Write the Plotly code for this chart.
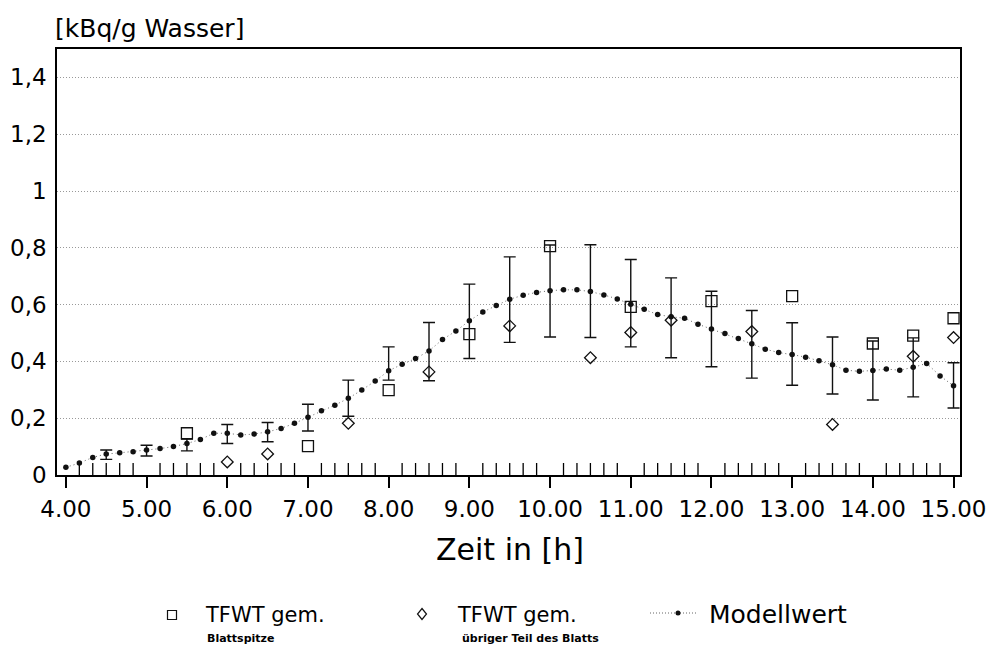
import plotly.graph_objects as go

# ---------------- data ----------------
model_t = [4.0, 4.167, 4.333, 4.5, 4.667, 4.833, 5.0, 5.167, 5.333, 5.5, 5.667, 5.833,
           6.0, 6.167, 6.333, 6.5, 6.667, 6.833, 7.0, 7.167, 7.333, 7.5, 7.667, 7.833,
           8.0, 8.167, 8.333, 8.5, 8.667, 8.833, 9.0, 9.167, 9.333, 9.5, 9.667, 9.833,
           10.0, 10.167, 10.333, 10.5, 10.667, 10.833, 11.0, 11.167, 11.333, 11.5, 11.667, 11.833,
           12.0, 12.167, 12.333, 12.5, 12.667, 12.833, 13.0, 13.167, 13.333, 13.5, 13.667, 13.833,
           14.0, 14.167, 14.333, 14.5, 14.667, 14.833, 15.0]
model_v = [0.027, 0.042, 0.062, 0.074, 0.078, 0.082, 0.088, 0.093, 0.100, 0.111, 0.125, 0.147,
           0.147, 0.141, 0.144, 0.152, 0.164, 0.182, 0.203, 0.226, 0.246, 0.270, 0.299, 0.331,
           0.367, 0.390, 0.410, 0.437, 0.477, 0.507, 0.543, 0.574, 0.597, 0.619, 0.633, 0.643,
           0.649, 0.652, 0.652, 0.646, 0.634, 0.620, 0.601, 0.584, 0.565, 0.557, 0.552, 0.531,
           0.514, 0.498, 0.481, 0.462, 0.443, 0.431, 0.424, 0.415, 0.402, 0.388, 0.369, 0.365,
           0.368, 0.373, 0.369, 0.379, 0.393, 0.349, 0.314]

err_t = [4.5, 5.0, 5.5, 6.0, 6.5, 7.0, 7.5, 8.0, 8.5, 9.0, 9.5, 10.0, 10.5, 11.0, 11.5,
         12.0, 12.5, 13.0, 13.5, 14.0, 14.5, 15.0]
err_hi = [0.088, 0.105, 0.127, 0.178, 0.185, 0.249, 0.334, 0.451, 0.537, 0.672, 0.768, 0.810,
          0.811, 0.759, 0.694, 0.647, 0.579, 0.536, 0.486, 0.472, 0.483, 0.395]
err_lo = [0.055, 0.067, 0.085, 0.111, 0.117, 0.155, 0.207, 0.334, 0.332, 0.410, 0.467, 0.486,
          0.484, 0.451, 0.413, 0.381, 0.341, 0.316, 0.285, 0.264, 0.275, 0.236]

tip_t = [5.5, 7.0, 8.0, 9.0, 10.0, 11.0, 12.0, 13.0, 14.0, 14.5, 15.0]
tip_v = [0.147, 0.102, 0.299, 0.496, 0.806, 0.592, 0.612, 0.630, 0.463, 0.491, 0.552]

rest_t = [6.0, 6.5, 7.5, 8.5, 9.5, 10.5, 11.0, 11.5, 12.5, 13.5, 14.5, 15.0]
rest_v = [0.046, 0.074, 0.182, 0.363, 0.525, 0.413, 0.502, 0.545, 0.505, 0.178, 0.418, 0.484]

x_tickvals = [4, 5, 6, 7, 8, 9, 10, 11, 12, 13, 14, 15]
x_ticktext = ["4.00", "5.00", "6.00", "7.00", "8.00", "9.00", "10.00", "11.00",
              "12.00", "13.00", "14.00", "15.00"]
y_tickvals = [0, 0.2, 0.4, 0.6, 0.8, 1.0, 1.2, 1.4]
y_ticktext = ["0", "0,2", "0,4", "0,6", "0,8", "1", "1,2", "1,4"]

# ---------------- layout geometry ----------------
W, H = 987, 649
L, R, T, B = 57, 27, 49, 174
PW, PH = W - L - R, H - T - B
FONT = "DejaVu Sans"
INK = "#000"
YR = [0, 1.5]

# 10-minute tick positions (axis decoration only)
minor_vals = [round(4 + i / 6, 4) for i in range(67)
              if all(abs(4 + i / 6 - m) > 1e-6 for m in x_tickvals)]


def px(x):
    return (x - L) / PW


def py(y):
    return (H - B - y) / PH


center = dict(zip(model_t, model_v))
err_c = [center[t] for t in err_t]
err_plus = [h - c for h, c in zip(err_hi, err_c)]
err_minus = [c - lo for c, lo in zip(err_c, err_lo)]

fig = go.Figure()

# tick marks on the time axis, drawn as vertical-line markers sitting on the axis
unit_per_px = (YR[1] - YR[0]) / PH
fig.add_trace(go.Scatter(
    x=minor_vals, y=[5 * unit_per_px] * len(minor_vals), mode="markers",
    marker=dict(symbol="line-ns-open", size=10, color=INK, line=dict(color=INK, width=1.3)),
    cliponaxis=False, showlegend=False, hoverinfo="skip"))
fig.add_trace(go.Scatter(
    x=x_tickvals, y=[-0.5 * unit_per_px] * len(x_tickvals), mode="markers",
    marker=dict(symbol="line-ns-open", size=21, color=INK, line=dict(color=INK, width=1.5)),
    cliponaxis=False, showlegend=False, hoverinfo="skip"))

fig.add_trace(go.Scatter(
    x=err_t, y=err_c, mode="markers",
    marker=dict(size=1, color="rgba(0,0,0,0)"),
    error_y=dict(type="data", symmetric=False, array=err_plus, arrayminus=err_minus,
                 color="#111", thickness=1.4, width=6),
    showlegend=False, hoverinfo="skip"))

fig.add_trace(go.Scatter(
    x=model_t, y=model_v, mode="lines+markers", name="Modellwert",
    line=dict(color="#666", width=1, dash="1px,3px"),
    marker=dict(size=5.5, color="#111"), showlegend=False))

fig.add_trace(go.Scatter(
    x=tip_t, y=tip_v, mode="markers", name="TFWT gem. Blattspitze",
    marker=dict(symbol="square-open", size=11, color="#111", line=dict(width=1.3)),
    showlegend=False))

fig.add_trace(go.Scatter(
    x=rest_t, y=rest_v, mode="markers", name="TFWT gem. übriger Teil des Blatts",
    marker=dict(symbol="diamond-open", size=9, color="#111", line=dict(width=1.3)),
    showlegend=False))

xr = [3.89, 15.08]
fig.update_layout(
    template="none",
    width=W, height=H,
    margin=dict(l=L, r=R, t=T, b=B, autoexpand=False),
    paper_bgcolor="white", plot_bgcolor="white",
    font=dict(family=FONT, color=INK),
    xaxis=dict(
        range=xr, tickmode="array", tickvals=x_tickvals, ticktext=x_ticktext,
        ticks="outside", ticklen=11, tickwidth=1.5, tickcolor=INK,
        tickfont=dict(size=23, family=FONT, color=INK),
        ticklabelstandoff=2,
        showline=True, linecolor=INK, linewidth=1.5, mirror=True,
        showgrid=False, zeroline=False, automargin=False),
    yaxis=dict(
        range=YR, tickmode="array", tickvals=y_tickvals, ticktext=y_ticktext,
        ticks="", tickfont=dict(size=23, family=FONT, color=INK),
        ticklabelstandoff=4,
        showline=True, linecolor=INK, linewidth=1.5, mirror=True,
        showgrid=True, gridcolor="#999", gridwidth=1, griddash="1px,2px",
        zeroline=False, automargin=False),
)

ann = [
    dict(text="[kBq/g Wasser]", x=px(53), y=py(28), xanchor="left", yanchor="middle",
         font=dict(size=25)),
    dict(text="Zeit in [h]", x=px(509.5), y=py(549), xanchor="center", yanchor="middle",
         font=dict(size=30)),
    dict(text="TFWT gem.", x=px(203), y=py(615), xanchor="left", yanchor="middle",
         font=dict(size=21)),
    dict(text="<b>Blattspitze</b>", x=px(205), y=py(638), xanchor="left", yanchor="middle",
         font=dict(size=11)),
    dict(text="TFWT gem.", x=px(455), y=py(615), xanchor="left", yanchor="middle",
         font=dict(size=21)),
    dict(text="<b>übriger Teil des Blatts</b>", x=px(460), y=py(638), xanchor="left",
         yanchor="middle", font=dict(size=11)),
    dict(text="Modellwert", x=px(707), y=py(614), xanchor="left", yanchor="middle",
         font=dict(size=25)),
]
for a in ann:
    a.update(xref="paper", yref="paper", showarrow=False)
fig.update_layout(annotations=ann)

shapes = [
    dict(type="rect", x0=px(167.5), x1=px(176.5), y0=py(619.5), y1=py(610.5),
         line=dict(color="#111", width=1.2)),
    dict(type="path",
         path=f"M {px(422)} {py(608.5)} L {px(426.5)} {py(614)} L {px(422)} {py(619.5)} "
              f"L {px(417.5)} {py(614)} Z",
         line=dict(color="#111", width=1.2)),
    dict(type="line", x0=px(650), x1=px(698), y0=py(613), y1=py(613),
         line=dict(color="#666", width=1, dash="1px,2px")),
    dict(type="circle", x0=px(675.5), x1=px(680.5), y0=py(615.5), y1=py(610.5),
         fillcolor="#111", line=dict(color="#111", width=0)),
]
for s in shapes:
    s.update(xref="paper", yref="paper")
fig.update_layout(shapes=shapes)

fig.write_html("out.html")
